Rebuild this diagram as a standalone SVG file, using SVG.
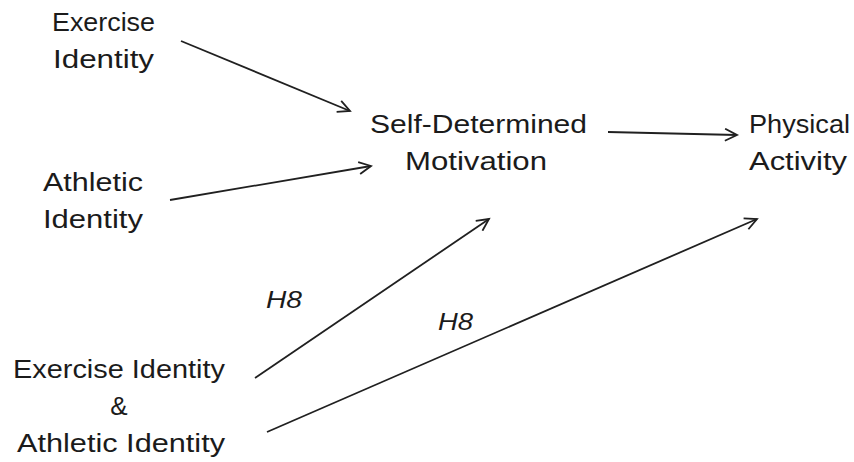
<svg xmlns="http://www.w3.org/2000/svg" width="854" height="462" viewBox="0 0 854 462">
  <style>
    .lbl { font-family: "Liberation Sans", Arial, sans-serif; font-size: 26px; fill: #1b1b1b; text-anchor: middle; }
    .hyp { font-family: "Liberation Sans", Arial, sans-serif; font-size: 24px; font-style: italic; fill: #1b1b1b; text-anchor: start; }
    .edge { stroke: #202020; stroke-width: 1.8; fill: none; marker-end: url(#arrow); }
  </style>
  <defs>
    <marker id="arrow" markerWidth="16" markerHeight="14" refX="13" refY="7" orient="auto" markerUnits="userSpaceOnUse">
      <path d="M1,1 L13,7 L1,13" fill="none" stroke="#202020" stroke-width="1.8"/>
    </marker>
  </defs>
  <rect width="854" height="462" fill="#ffffff"/>

  <g id="exercise-identity">
    <text class="lbl" x="103.5" y="31" textLength="103" lengthAdjust="spacingAndGlyphs">Exercise</text>
    <text class="lbl" x="103.5" y="68" textLength="101" lengthAdjust="spacingAndGlyphs">Identity</text>
  </g>
  <g id="athletic-identity">
    <text class="lbl" x="93" y="191" textLength="100" lengthAdjust="spacingAndGlyphs">Athletic</text>
    <text class="lbl" x="93" y="228" textLength="100" lengthAdjust="spacingAndGlyphs">Identity</text>
  </g>
  <g id="self-determined-motivation">
    <text class="lbl" x="478.5" y="133" textLength="217" lengthAdjust="spacingAndGlyphs">Self-Determined</text>
    <text class="lbl" x="476" y="170" textLength="142" lengthAdjust="spacingAndGlyphs">Motivation</text>
  </g>
  <g id="physical-activity">
    <text class="lbl" x="799.5" y="133" textLength="101" lengthAdjust="spacingAndGlyphs">Physical</text>
    <text class="lbl" x="798" y="170" textLength="98" lengthAdjust="spacingAndGlyphs">Activity</text>
  </g>
  <g id="interaction">
    <text class="lbl" x="119" y="378" textLength="212" lengthAdjust="spacingAndGlyphs">Exercise Identity</text>
    <text class="lbl" x="119" y="415">&amp;</text>
    <text class="lbl" x="121" y="452" textLength="208" lengthAdjust="spacingAndGlyphs">Athletic Identity</text>
  </g>

  <g id="connectors">
    <line class="edge" x1="181" y1="41" x2="350" y2="111"/>
    <line class="edge" x1="170" y1="200" x2="371" y2="166"/>
    <line class="edge" x1="608" y1="132" x2="737" y2="135"/>
    <line class="edge" x1="255" y1="378" x2="489" y2="219"/>
    <line class="edge" x1="267" y1="432" x2="757" y2="219"/>
    <text class="hyp" x="266" y="308" textLength="36" lengthAdjust="spacingAndGlyphs">H8</text>
    <text class="hyp" x="438" y="330" textLength="35" lengthAdjust="spacingAndGlyphs">H8</text>
  </g>
</svg>
